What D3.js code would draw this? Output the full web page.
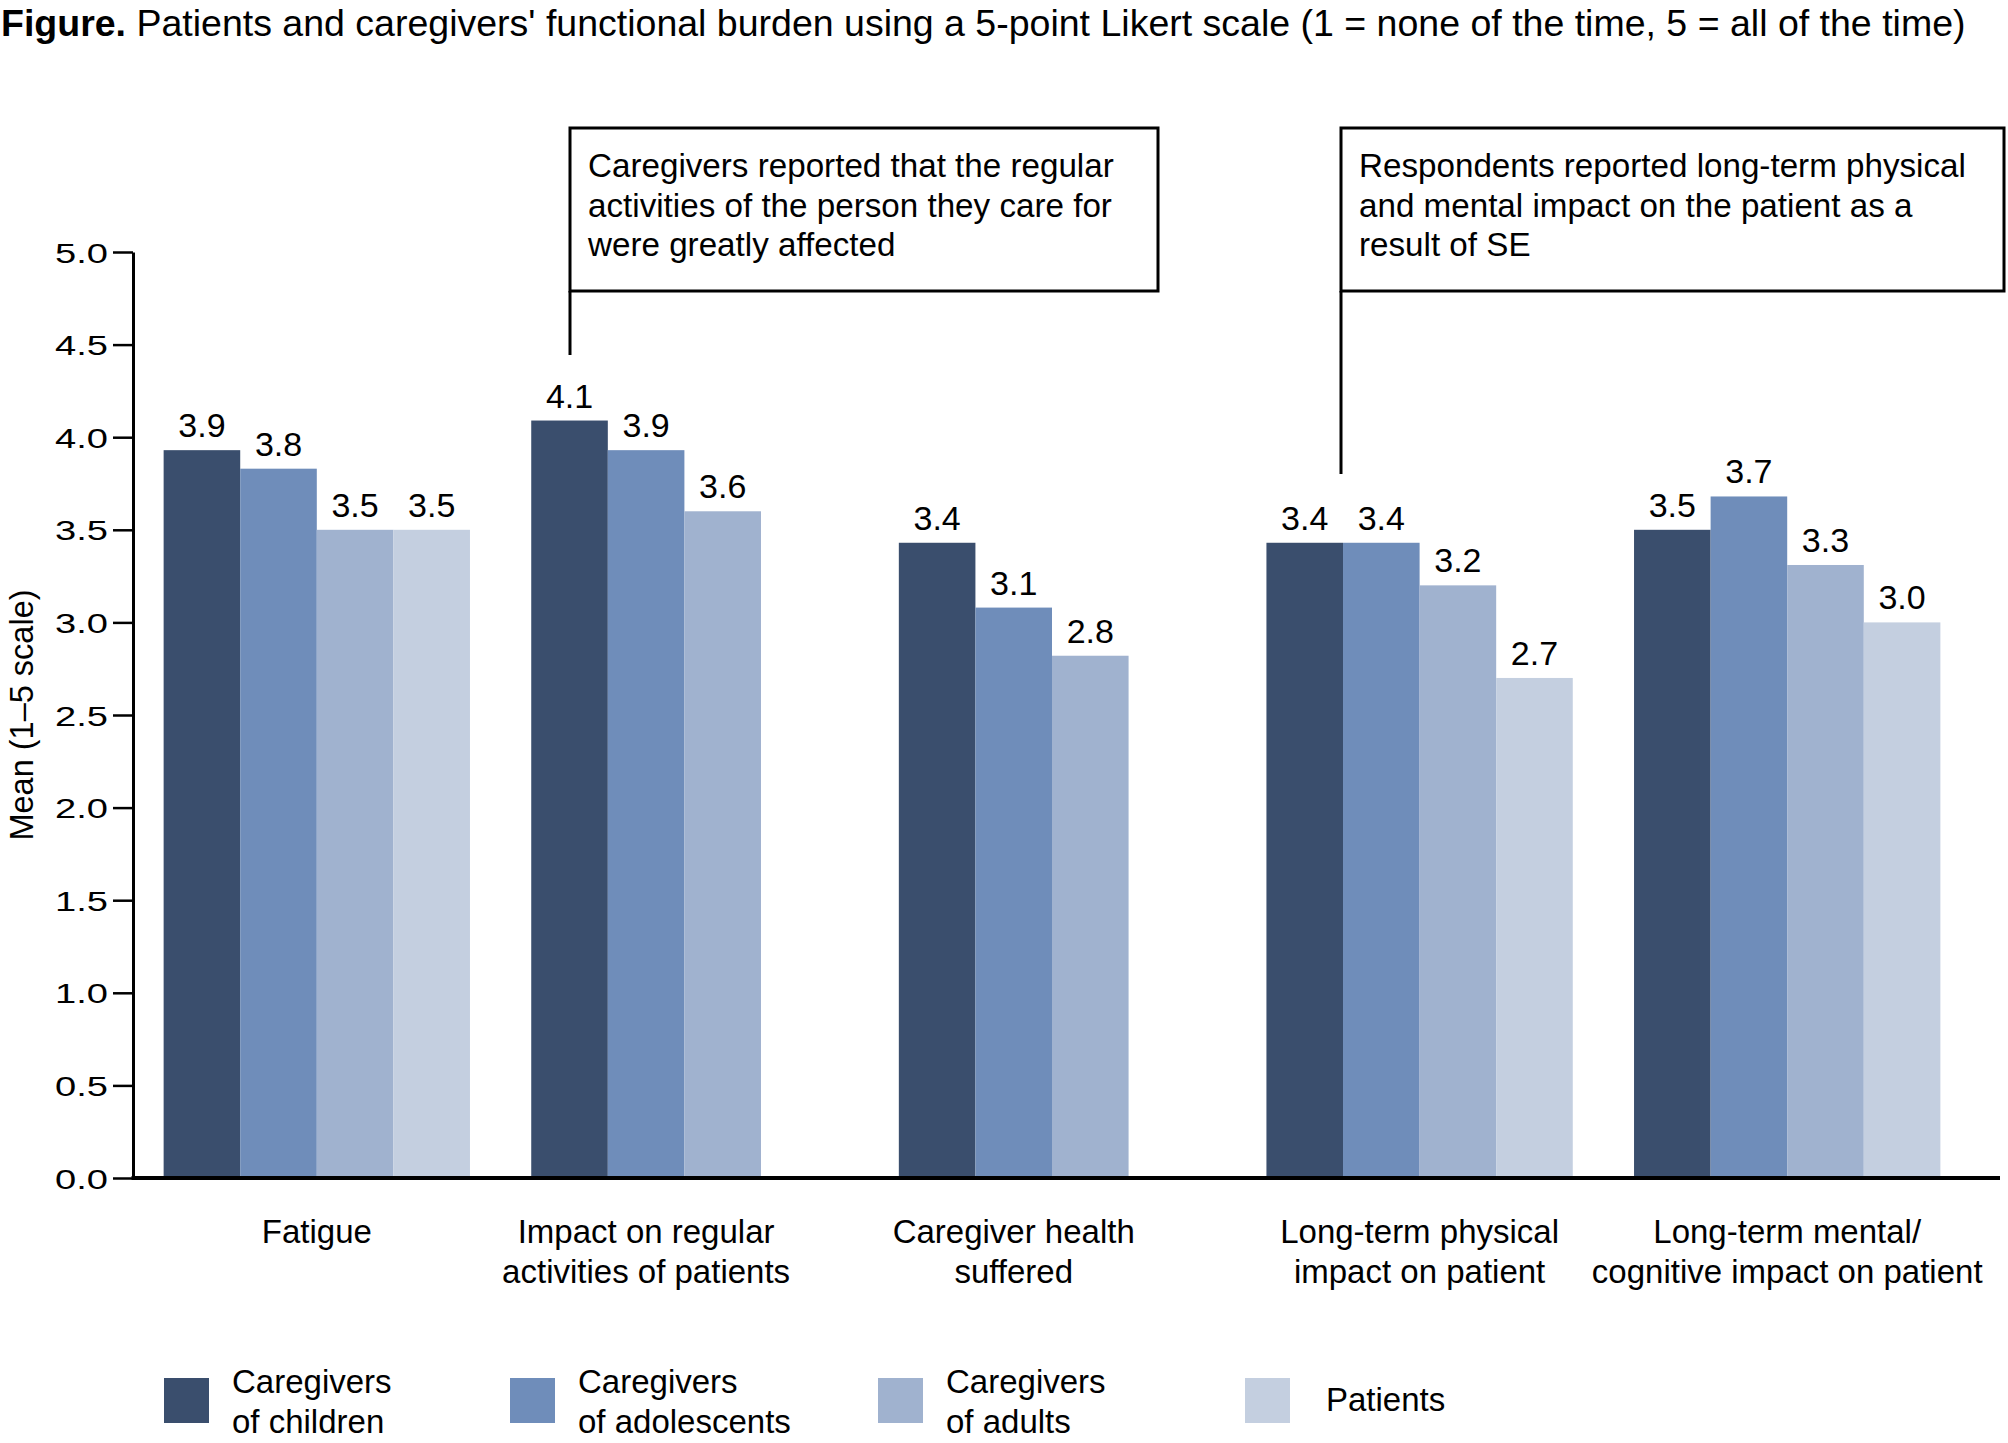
<!DOCTYPE html>
<html>
<head>
<meta charset="utf-8">
<script src="https://cdn.jsdelivr.net/npm/d3@7"></script>
<style>
    body { margin: 0; background: #ffffff; }
    svg { display: block; font-family: "Liberation Sans", Arial, sans-serif; }
</style>
</head>
<body>
<div id="chart"></div>
<script>
var width = 2008;
var height = 1443;

// categories and their two-line tick labels
var categories = ["Fatigue", "Impact on regular activities of patients", "Caregiver health suffered",
    "Long-term physical impact on patient", "Long-term mental/cognitive impact on patient"];
var categoryLabels = [["Fatigue"], ["Impact on regular", "activities of patients"], ["Caregiver health", "suffered"],
    ["Long-term physical", "impact on patient"], ["Long-term mental/", "cognitive impact on patient"]];

// series (respondent groups)
var series = ["Caregivers of children", "Caregivers of adolescents", "Caregivers of adults", "Patients"];
var seriesLabels = [["Caregivers", "of children"], ["Caregivers", "of adolescents"], ["Caregivers", "of adults"], ["Patients"]];
var seriesColors = ["#3a4e6d", "#6f8dba", "#a0b2cf", "#c4cfe0"];

// mean scores (null = not asked)
var childrenValues = [3.93, 4.09, 3.43, 3.43, 3.50];
var adolescentsValues = [3.83, 3.93, 3.08, 3.43, 3.68];
var adultsValues = [3.50, 3.60, 2.82, 3.20, 3.31];
var patientsValues = [3.50, null, null, 2.70, 3.00];

var yTicks = [0, 0.5, 1, 1.5, 2, 2.5, 3, 3.5, 4, 4.5, 5];

var titleBold = "Figure.";
var titleText = " Patients and caregivers' functional burden using a 5-point Likert scale (1 = none of the time, 5 = all of the time)";
var yTitle = "Mean (1\u20135 scale)";

var notes = [
    ["Caregivers reported that the regular", "activities of the person they care for", "were greatly affected"],
    ["Respondents reported long-term physical", "and mental impact on the patient as a", "result of SE"]
];

var allValues = [childrenValues, adolescentsValues, adultsValues, patientsValues];

/*====================================================================
       svg + scales
    ==================================================================*/
var svg = d3.select("#chart")
    .append("svg")
    .attr("width", width)
    .attr("height", height);

var plotLeft = 133;
var plotBottom = 1178;
var plotTop = 252;

var x0 = d3.scaleBand()
    .domain(categories)
    .range([plotLeft, 1971])
    .paddingInner(1 / 6)
    .paddingOuter(1 / 12);

var x1 = d3.scaleBand()
    .domain(series)
    .range([0, x0.bandwidth()]);

var y = d3.scaleLinear()
    .domain([0, 5])
    .range([plotBottom, plotTop]);

var fmt = d3.format(".1f");

// title
var title = svg.append("text")
    .attr("x", 1)
    .attr("y", 36)
    .attr("font-size", 37.5)
    .attr("fill", "#000");
title.append("tspan").attr("font-weight", "bold").text(titleBold);
title.append("tspan").text(titleText);

/*====================================================================
       bars
    ==================================================================*/
var rows = [];
categories.forEach(function (c, i) {
    series.forEach(function (s, j) {
        var v = allValues[j][i];
        if (v !== null) rows.push({ category: c, series: s, value: v, color: seriesColors[j] });
    });
});

svg.append("g")
    .selectAll("rect")
    .data(rows)
    .enter()
    .append("rect")
    .attr("x", function (d) { return x0(d.category) + x1(d.series); })
    .attr("y", function (d) { return y(d.value); })
    .attr("width", x1.bandwidth())
    .attr("height", function (d) { return y(0) - y(d.value); })
    .attr("fill", function (d) { return d.color; });

svg.append("g")
    .selectAll("text")
    .data(rows)
    .enter()
    .append("text")
    .attr("x", function (d) { return x0(d.category) + x1(d.series) + x1.bandwidth() / 2; })
    .attr("y", function (d) { return y(d.value) - 13; })
    .attr("text-anchor", "middle")
    .attr("font-size", 34)
    .text(function (d) { return fmt(d.value); });

/*====================================================================
       axes
    ==================================================================*/
var yAxis = svg.append("g")
    .attr("transform", "translate(" + plotLeft + ",0)")
    .call(d3.axisLeft(y).tickValues(yTicks).tickFormat(fmt).tickSize(20).tickSizeOuter(0));

yAxis.select(".domain").attr("stroke", "#000").attr("stroke-width", 3);
yAxis.selectAll(".tick line").attr("stroke", "#000").attr("stroke-width", 2.5);
yAxis.selectAll(".tick text")
    .attr("font-family", "Liberation Sans, Arial, sans-serif")
    .attr("font-size", 28)
    .attr("fill", "#000")
    .attr("dy", "0.36em")
    .attr("x", -25 / 1.36)
    .attr("transform", "scale(1.36,1)");

svg.append("line")
    .attr("x1", plotLeft - 1.5)
    .attr("x2", 2000)
    .attr("y1", plotBottom)
    .attr("y2", plotBottom)
    .attr("stroke", "#000")
    .attr("stroke-width", 4);

svg.append("text")
    .attr("transform", "translate(33," + (y(2.5)) + ") rotate(-90)")
    .attr("text-anchor", "middle")
    .attr("font-size", 32.5)
    .text(yTitle);

// category labels sit under the bars each group actually has
var catText = svg.append("g")
    .selectAll("text")
    .data(categories)
    .enter()
    .append("text")
    .attr("text-anchor", "middle")
    .attr("font-size", 33)
    .attr("transform", function (d, i) {
        var n = allValues.filter(function (v) { return v[i] !== null; }).length;
        return "translate(" + (x0(d) + x1.bandwidth() * n / 2) + ",1243)";
    });

catText.each(function (d, i) {
    var t = d3.select(this);
    categoryLabels[i].forEach(function (line, k) {
        t.append("tspan").attr("x", 0).attr("y", k * 40).text(line);
    });
});

/*====================================================================
       annotation boxes
    ==================================================================*/
var noteBoxes = [
    { x: 570, w: 588, lineEnd: 355 },
    { x: 1341, w: 663, lineEnd: 474 }
];

noteBoxes.forEach(function (b, i) {
    var g = svg.append("g");
    g.append("rect")
        .attr("x", b.x)
        .attr("y", 128)
        .attr("width", b.w)
        .attr("height", 163)
        .attr("fill", "#fff")
        .attr("stroke", "#000")
        .attr("stroke-width", 3);
    g.append("line")
        .attr("x1", b.x)
        .attr("x2", b.x)
        .attr("y1", 291)
        .attr("y2", b.lineEnd)
        .attr("stroke", "#000")
        .attr("stroke-width", 3);
    notes[i].forEach(function (line, k) {
        g.append("text")
            .attr("x", b.x + 18)
            .attr("y", 177 + k * 39.5)
            .attr("font-size", 33.2)
            .text(line);
    });
});

/*====================================================================
       legend
    ==================================================================*/
var legendX = [164, 510, 878, 1245];
var legend = svg.append("g");

series.forEach(function (s, i) {
    var g = legend.append("g").attr("transform", "translate(" + legendX[i] + ",1378)");
    g.append("rect")
        .attr("width", 45)
        .attr("height", 45)
        .attr("fill", seriesColors[i]);
    var lines = seriesLabels[i];
    var t = g.append("text").attr("font-size", 33);
    if (lines.length === 1) {
        t.append("tspan").attr("x", 81).attr("y", 33).text(lines[0]);
    } else {
        lines.forEach(function (line, k) {
            t.append("tspan").attr("x", 68).attr("y", 15 + k * 40).text(line);
        });
    }
});
</script>
</body>
</html>
